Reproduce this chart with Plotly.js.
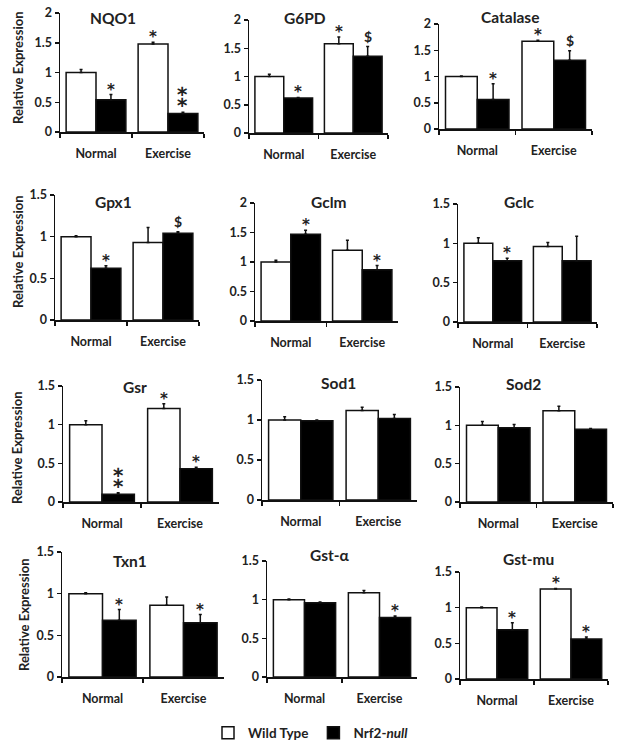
<!DOCTYPE html>
<html><head><meta charset="utf-8">
<script src="https://cdn.plot.ly/plotly-3.0.1.min.js"></script>
<style>html,body{margin:0;padding:0;background:#fff}#chart{width:619px;height:750px}</style>
</head><body><div id="chart"></div>
<script>
const categories = ['Normal', 'Exercise'];
const genes = ['NQO1','G6PD','Catalase','Gpx1','Gclm','Gclc','Gsr','Sod1','Sod2','Txn1','Gst-α','Gst-mu'];
const seriesNames = ['Wild Type', 'Nrf2-<i>null</i>'];
const wtValues   = [[1.00,1.48],[1.00,1.58],[1.00,1.67],[1.00,0.93],[1.00,1.20],[1.00,0.96],[1.00,1.21],[1.00,1.12],[1.00,1.19],[1.00,0.86],[1.00,1.09],[1.00,1.26]];
const wtErrors   = [[0.05,0.03],[0.04,0.12],[0.01,0.02],[0.01,0.18],[0.03,0.17],[0.07,0.05],[0.05,0.06],[0.04,0.04],[0.05,0.06],[0.01,0.10],[0.01,0.03],[0.01,0.01]];
const nullValues = [[0.54,0.31],[0.62,1.36],[0.56,1.31],[0.62,1.04],[1.47,0.87],[0.78,0.78],[0.10,0.43],[0.99,1.02],[0.97,0.95],[0.68,0.65],[0.96,0.77],[0.69,0.56]];
const nullErrors = [[0.09,0.02],[0.01,0.17],[0.30,0.18],[0.03,0.02],[0.07,0.07],[0.03,0.31],[0.02,0.02],[0.01,0.05],[0.04,0.01],[0.13,0.10],[0.01,0.02],[0.10,0.03]];
const yMax = [2,2,2,1.5,2,1.5,1.5,1.5,1.5,1.5,1.5,1.5];
const wtMarks   = [['','*'],['','*'],['','*'],['',''],['',''],['',''],['','*'],['',''],['',''],['',''],['',''],['','*']];
const nullMarks = [['*','⁑'],['*','$'],['*','$'],['*','$'],['*','*'],['*',''],['⁑','*'],['',''],['',''],['*','*'],['','*'],['*','*']];

// panel geometry in pixels: [xLeft, xRight, yZero, yTop]
const panels = [
  [60,204,132,13],[249,388,133,20],[439,592,129,24],
  [55,199,320,195],[255,398,321,203],[458,597,322,204],
  [63,219,502,386],[262,417,500,380],[460,613,502,387],
  [62,224,677,552],[267,417,677,561],[460,608,679,572]
];
const titlePos = [[113,18],[305,18],[510,17],[113,202],[328,202],[519,202],[135,387],[338,383],[523,384],[130,561],[330,555],[528,559]];
const yTitlePos = [[18,68],[18,252],[17,448],[24,615]];

const W = 619, H = 750;
const px = x => x / W, py = y => 1 - y / H;
const FONT = 'Lato, "Open Sans", sans-serif';
const MARKFONT = '"DejaVu Sans", sans-serif';
const BARGAP = 0.17;
const half = (1 - BARGAP) / 4;

const data = [], annotations = [];
const layout = {
  width: W, height: H, margin: {l:0,r:0,t:0,b:0},
  paper_bgcolor: '#fff', plot_bgcolor: '#fff',
  barmode: 'group', bargap: BARGAP, bargroupgap: 0,
  font: {family: FONT, size: 12, color: '#222', weight: 'bold'},
  showlegend: true,
  legend: {orientation: 'h', x: px(208), y: py(733), xanchor: 'left', yanchor: 'middle',
           font: {family: FONT, size: 13.5, color: '#222', weight: 'bold'}, itemwidth: 30, tracegroupgap: 0},
  annotations: annotations
};

genes.forEach((g, i) => {
  const s = i === 0 ? '' : String(i + 1);
  const [x0, x1, y0, yt] = panels[i];
  layout['xaxis' + s] = {
    domain: [px(x0), px(x1)], anchor: 'y' + s, type: 'category',
    showline: true, linecolor: '#111', linewidth: 1.5, mirror: false,
    ticks: 'outside', tickson: 'boundaries', ticklen: 4, tickwidth: 1.5, tickcolor: '#111',
    showgrid: false, zeroline: false, ticklabelstandoff: 9,
    tickfont: {family: FONT, size: 12.5, color: '#222', weight: 'bold'}, fixedrange: true
  };
  layout['yaxis' + s] = {
    domain: [py(y0), py(yt)], anchor: 'x' + s, range: [0, yMax[i]], dtick: 0.5, tick0: 0,
    showline: true, linecolor: '#111', linewidth: 1.5,
    ticks: 'outside', ticklen: 4, tickwidth: 1.5, tickcolor: '#111',
    showgrid: false, zeroline: false,
    tickfont: {family: FONT, size: 12.5, color: '#222', weight: 'bold'}, fixedrange: true
  };
  data.push({
    type: 'bar', name: seriesNames[0], legendgroup: 'wt', showlegend: i === 0,
    x: categories, y: wtValues[i], xaxis: 'x' + s, yaxis: 'y' + s,
    marker: {color: '#fff', line: {color: '#111', width: 1.5}},
    error_y: {type: 'data', symmetric: false, array: wtErrors[i], arrayminus: [0,0], color: '#111', thickness: 1.5, width: 1.5}
  });
  data.push({
    type: 'bar', name: seriesNames[1], legendgroup: 'null', showlegend: i === 0,
    x: categories, y: nullValues[i], xaxis: 'x' + s, yaxis: 'y' + s,
    marker: {color: '#000', line: {color: '#111', width: 1.5}},
    error_y: {type: 'data', symmetric: false, array: nullErrors[i], arrayminus: [0,0], color: '#111', thickness: 1.5, width: 1.5}
  });
  annotations.push({
    xref: 'paper', yref: 'paper', x: px(titlePos[i][0]), y: py(titlePos[i][1]),
    text: g, showarrow: false, xanchor: 'center', yanchor: 'middle',
    font: {family: FONT, size: 15.5, color: '#222', weight: 'bold'}
  });
  // significance marks
  [[wtValues, wtErrors, wtMarks, -1], [nullValues, nullErrors, nullMarks, 1]].forEach(([vals, errs, marks, side]) => {
    for (let c = 0; c < 2; c++) {
      const m = marks[i][c];
      if (!m) continue;
      const isDollar = m === '$', isDouble = m === '⁑';
      annotations.push({
        xref: 'x' + s, yref: 'y' + s, x: c + side * half, y: vals[i][c] + errs[i][c],
        text: m, showarrow: false, xanchor: 'center', yanchor: 'bottom',
        yshift: isDollar ? 0 : (isDouble ? -3 : -6),
        font: isDollar ? {family: FONT, size: 14, color: '#222', weight: 'bold'}
                       : {family: MARKFONT, size: isDouble ? 25 : 15, color: '#222', weight: 'bold'}
      });
    }
  });
});

yTitlePos.forEach(p => {
  annotations.push({
    xref: 'paper', yref: 'paper', x: px(p[0]), y: py(p[1]), text: 'Relative Expression',
    textangle: -90, showarrow: false, xanchor: 'center', yanchor: 'middle',
    font: {family: FONT, size: 13, color: '#222', weight: 'bold'}
  });
});

Plotly.newPlot('chart', data, layout, {staticPlot: true});
</script></body></html>
